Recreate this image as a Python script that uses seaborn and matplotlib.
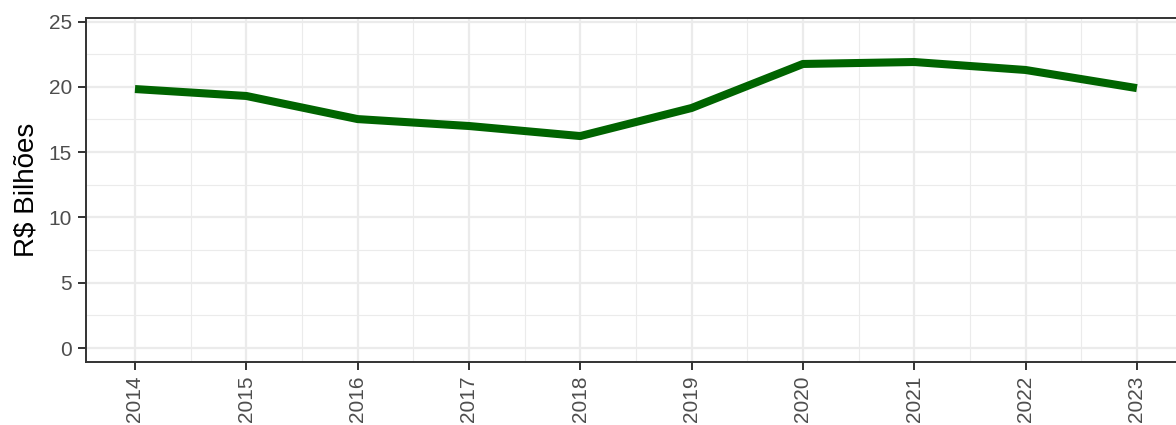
import matplotlib
matplotlib.use("Agg")
import matplotlib.pyplot as plt
import seaborn as sns
import pandas as pd
from matplotlib.ticker import MultipleLocator

years = [2014, 2015, 2016, 2017, 2018, 2019, 2020, 2021, 2022, 2023]
values = [19.83, 19.3, 17.53, 17.0, 16.23, 18.38, 21.75, 21.9, 21.29, 19.9]
y_ticks = [0, 5, 10, 15, 20, 25]

df = pd.DataFrame({"ano": years, "valor": values})

sns.set_theme(style="white")
plt.rcParams["font.family"] = ["Liberation Sans", "DejaVu Sans"]

fig = plt.figure(figsize=(11.76, 4.25), dpi=100)
ax = fig.add_axes([86 / 1176, (425 - 362) / 425, (1187 - 86) / 1176, (362 - 18) / 425])

sns.lineplot(data=df, x="ano", y="valor", ax=ax, color="#006400", linewidth=5.8,
             solid_capstyle="butt", zorder=3)

ax.set_xlim(2014 - 0.44, 2023 + 0.45)
ax.set_ylim(-1.07, 25.27)
ax.set_xticks(years)
ax.set_xticklabels([str(y) for y in years], rotation=90)
ax.set_yticks(y_ticks)
ax.xaxis.set_minor_locator(MultipleLocator(0.5))
ax.yaxis.set_minor_locator(MultipleLocator(2.5))

ax.grid(which="major", color="#EBEBEB", linewidth=1.6, zorder=0)
ax.grid(which="minor", color="#EBEBEB", linewidth=0.8, zorder=0)
ax.set_axisbelow(True)

for side in ["top", "left", "bottom", "right"]:
    ax.spines[side].set_color("#333333")
    ax.spines[side].set_linewidth(1.4)

ax.tick_params(axis="both", which="major", length=6, width=1.4, color="#333333",
               labelcolor="#4D4D4D", labelsize=15, direction="out", pad=4)
ax.tick_params(axis="x", which="major", bottom=True)
ax.tick_params(axis="y", which="major", left=True)
ax.tick_params(axis="both", which="minor", length=0)

ax.set_xlabel("")
ax.set_ylabel("R\\$ Bilhões", fontsize=20, color="black", labelpad=7)

fig.savefig("out.png", dpi=100)
